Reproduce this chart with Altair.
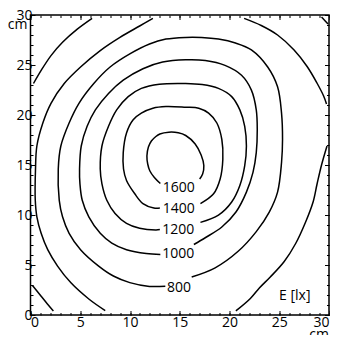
import altair as alt
import pandas as pd

# ---- contour polylines (cm) ----
c1600_x = [13.05, 12.45, 12.0, 11.78, 11.70, 11.85, 12.15, 12.6, 13.0, 13.9, 14.85, 15.6, 16.55, 17.15, 17.42, 17.3, 17.0]
c1600_y = [13.15, 13.75, 14.4, 15.1, 15.9, 16.8, 17.4, 17.85, 18.1, 18.28, 18.22, 17.95, 17.1, 16.0, 14.95, 14.1, 13.6]

c1400_x = [13.0, 12.4, 11.3, 10.48, 9.65, 9.35, 9.32, 9.65, 10.32, 11.14, 12.30, 13.61, 15.59, 16.91, 17.90, 18.73, 19.23, 19.33, 19.06, 18.40, 17.08]
c1400_y = [10.7, 10.7, 11.14, 12.12, 13.45, 14.6, 16.24, 18.21, 19.53, 20.19, 20.68, 20.85, 20.78, 20.68, 20.19, 19.20, 17.55, 15.58, 13.60, 12.12, 11.14]

c1200_x = [13.0, 12.62, 10.97, 9.65, 8.50, 7.67, 7.18, 7.01, 7.18, 7.84, 8.66, 9.82, 11.14, 12.95, 15.59, 17.25, 18.89, 20.22, 21.04, 21.53, 21.70, 21.53, 21.04, 20.22, 18.89, 17.08]
c1200_y = [8.55, 8.51, 8.67, 9.16, 10.15, 11.47, 13.11, 14.6, 16.90, 18.87, 20.51, 21.84, 22.66, 23.08, 23.15, 23.05, 22.66, 21.84, 20.51, 18.87, 16.90, 14.93, 12.95, 11.30, 9.99, 9.26]

c1000_x = [13.05, 11.63, 9.65, 8.17, 7.01, 5.86, 5.20, 4.97, 4.93, 5.10, 5.69, 6.52, 7.84, 9.32, 11.30, 13.28, 15.59, 17.57, 19.55, 21.21, 22.20, 22.69, 22.79, 22.69, 22.36, 21.70, 20.65, 19.23, 17.6, 16.42]
c1000_y = [6.04, 6.14, 6.53, 7.19, 8.17, 9.82, 11.47, 13.11, 14.6, 16.90, 18.87, 20.51, 22.16, 23.48, 24.63, 25.29, 25.52, 25.45, 24.96, 23.97, 22.49, 20.51, 18.54, 16.24, 14.26, 12.29, 10.3, 8.8, 7.75, 7.05]

c800_x = [13.55, 11.96, 9.98, 8.33, 6.85, 5.03, 3.88, 3.22, 2.89, 2.79, 3.05, 3.88, 4.87, 6.36, 8.0, 9.98, 11.96, 13.61, 15.59, 17.2, 18.89, 20.6, 22.20, 23.84, 24.83, 25.23, 25.33, 25.23, 24.83, 24.01, 22.69, 20.87, 18.56, 16.2]
c800_y = [2.88, 2.86, 3.24, 3.90, 4.89, 6.53, 8.17, 9.82, 11.47, 14.6, 16.90, 19.20, 21.17, 23.15, 24.80, 26.11, 27.10, 27.59, 27.76, 27.75, 27.59, 27.2, 26.51, 24.80, 22.82, 20.19, 17.55, 15.25, 12.29, 10.32, 8.34, 6.37, 4.72, 3.8]

c600a_x = [12.30, 10.97, 8.99, 7.01, 5.03, 3.39, 2.06, 1.24, 0.64, 0.50, 0.48, 0.64, 1.07, 1.73, 2.72, 4.04, 5.86, 7.51]
c600a_y = [29.66, 28.90, 27.76, 26.44, 24.80, 23.15, 21.17, 19.20, 16.90, 14.5, 11.47, 9.82, 8.17, 6.53, 4.89, 3.24, 1.60, 0.44]

c600b_x = [21.47, 23.19, 24.83, 26.49, 27.80, 28.79, 29.46, 29.75]
c600b_y = [29.66, 28.95, 28.0, 26.5, 24.85, 23.2, 21.9, 21.1]

c600c_x = [29.8, 29.25, 28.8, 28.4, 27.65, 26.65, 25.5, 24.1, 23.0, 22.1, 20.64]
c600c_y = [16.9, 15.0, 13.1, 11.3, 9.3, 7.15, 5.35, 3.8, 2.7, 1.65, 0.41]

c400a_x = [0.3, 1.07, 2.06, 3.22, 4.70, 6.19]
c400a_y = [23.15, 24.46, 25.94, 27.27, 28.58, 29.66]
c400b_x = [0.2, 1.05, 1.7, 2.3]
c400b_y = [2.95, 1.9, 1.1, 0.4]
c400c_x = [29.25, 29.9]
c400c_y = [29.8, 29.1]

# contour labels
label_text = ["1600", "1400", "1200", "1000", "800"]
label_x = [14.9, 14.9, 14.85, 14.85, 14.93]
label_y = [12.29, 10.22, 8.11, 5.71, 2.32]

major_ticks = list(range(0, 31, 5))
minor_ticks = list(range(0, 31, 1))

segments = {
    "1600": (c1600_x, c1600_y), "1400": (c1400_x, c1400_y), "1200": (c1200_x, c1200_y),
    "1000": (c1000_x, c1000_y), "800": (c800_x, c800_y),
    "600a": (c600a_x, c600a_y), "600b": (c600b_x, c600b_y), "600c": (c600c_x, c600c_y),
    "400a": (c400a_x, c400a_y), "400b": (c400b_x, c400b_y), "400c": (c400c_x, c400c_y),
}
rows = []
for name, (xs_, ys_) in segments.items():
    for i, (a, b) in enumerate(zip(xs_, ys_)):
        rows.append({"seg": name, "i": i, "x": a, "y": b})
df = pd.DataFrame(rows)
lab_df = pd.DataFrame({"t": label_text, "x": label_x, "y": label_y})

FONT = "Open Sans"
xsc = alt.Scale(domain=[0, 30], nice=False, zero=False)
ysc = alt.Scale(domain=[0, 30], nice=False, zero=False)


def axis(orient, values, size, labels=False, pad=0):
    kw = dict(orient=orient, values=values, tickSize={"expr": str(-size)}, tickColor="black",
              tickWidth=1, domain=False, grid=False, title=None, labels=labels)
    if labels:
        kw.update(labelFont=FONT, labelFontSize=14, labelColor="black", labelPadding=pad)
        if orient == "bottom":
            kw["labelFlush"] = True
    return alt.Axis(**kw)


lines = alt.Chart(df).mark_line(color="black", strokeWidth=1.5, interpolate="catmull-rom").encode(
    x=alt.X("x:Q", scale=xsc, axis=axis("bottom", major_ticks, 4.5, True, 5)),
    y=alt.Y("y:Q", scale=ysc, axis=axis("left", major_ticks, 4.5, True, 3)),
    detail="seg:N",
    order="i:Q",
)


def ghost(xo, yo, values, size):
    return alt.Chart(df).mark_point(opacity=0).encode(
        x=alt.X("x:Q", scale=xsc, axis=axis(xo, values, size)),
        y=alt.Y("y:Q", scale=ysc, axis=axis(yo, values, size)),
    )


g1 = ghost("bottom", "left", minor_ticks, 2.5)
g2 = ghost("top", "right", major_ticks, 4.5)
g3 = ghost("top", "right", minor_ticks, 2.5)

labels = alt.Chart(lab_df).mark_text(font=FONT, fontSize=14, color="black", baseline="alphabetic").encode(
    x=alt.X("x:Q", scale=xsc, axis=None),
    y=alt.Y("y:Q", scale=ysc, axis=None),
    text="t:N",
)

unit_df = pd.DataFrame({"t": ["E [lx]"], "x": [28.14], "y": [1.5]})
unit = alt.Chart(unit_df).mark_text(font=FONT, fontSize=14, color="black", align="right", baseline="alphabetic").encode(
    x=alt.X("x:Q", scale=xsc, axis=None), y=alt.Y("y:Q", scale=ysc, axis=None), text="t:N")

cmy_df = pd.DataFrame({"t": ["cm"], "x": [0], "y": [30]})
cmy = alt.Chart(cmy_df).mark_text(font=FONT, fontSize=14, color="black", align="right", baseline="alphabetic", dx=-3, dy=14).encode(
    x=alt.X("x:Q", scale=xsc, axis=None), y=alt.Y("y:Q", scale=ysc, axis=None), text="t:N")

cmx_df = pd.DataFrame({"t": ["cm"], "x": [30], "y": [0]})
cmx = alt.Chart(cmx_df).mark_text(font=FONT, fontSize=14, color="black", align="right", baseline="alphabetic", dx=0, dy=24).encode(
    x=alt.X("x:Q", scale=xsc, axis=None), y=alt.Y("y:Q", scale=ysc, axis=None), text="t:N")

chart = alt.layer(lines, g1, g2, g3, labels, unit, cmy, cmx).resolve_axis(
    x="independent", y="independent"
).properties(
    width=298.5, height=300,
    padding={"left": 22.5, "top": 7, "right": 1, "bottom": 20},
    autosize=alt.AutoSizeParams(type="none"),
).configure_view(stroke="black", strokeWidth=1.5)

chart.save("out.html", embed_options={"renderer": "svg", "actions": False})
